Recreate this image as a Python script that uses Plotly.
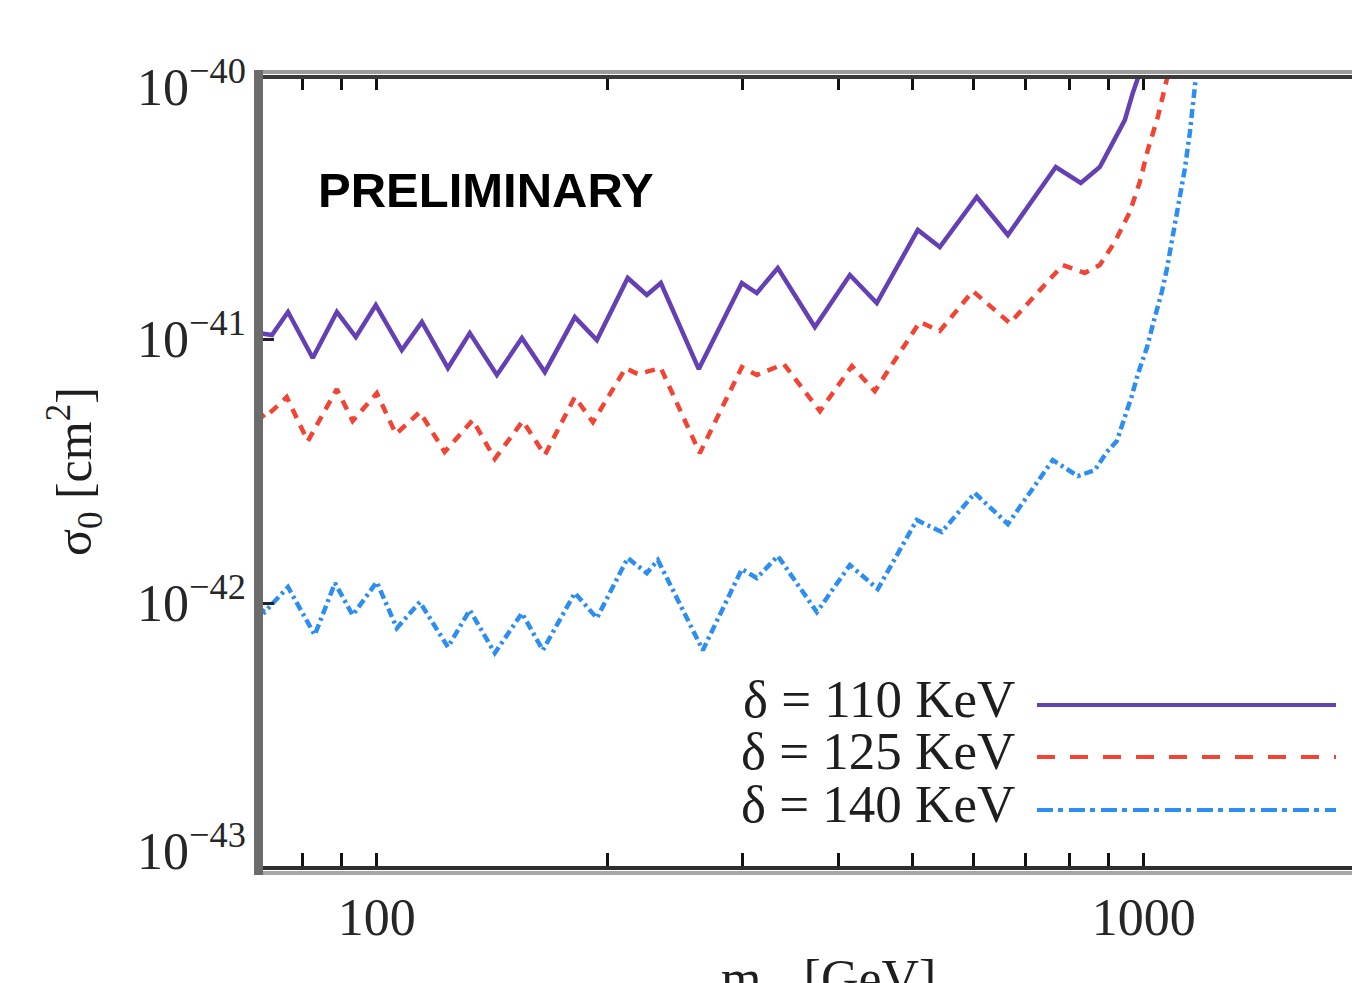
import plotly.graph_objects as go
import math

# ---- data ----
mass_110 = [70.0, 73.0, 76.6, 82.5, 88.7, 93.9, 99.7, 107.8, 114.5, 123.8, 132.2, 143.4, 154.6, 165.6,
            181.2, 193.6, 212.4, 224.9, 234.6, 262.9, 299.2, 312.9, 333.3, 372.5, 413.8, 448.6, 507.4,
            542.0, 605.7, 664.9, 767.8, 827.6, 876.2, 916.6, 944.6, 967.5, 1006]
sigma_110 = [1.056e-41, 1.038e-41, 1.269e-41, 8.50e-42, 1.269e-41, 1.020e-41, 1.348e-41, 9.11e-42,
             1.163e-41, 7.79e-42, 1.056e-41, 7.33e-42, 1.011e-41, 7.52e-42, 1.214e-41, 9.94e-42,
             1.706e-41, 1.471e-41, 1.633e-41, 7.72e-42, 1.633e-41, 1.497e-41, 1.861e-41, 1.113e-41,
             1.751e-41, 1.372e-41, 2.592e-41, 2.235e-41, 3.455e-41, 2.481e-41, 4.486e-41, 3.903e-41,
             4.486e-41, 5.676e-41, 6.755e-41, 8.551e-41, 1.19e-40]

mass_125 = [70.0, 71.4, 76.3, 81.3, 88.7, 93.0, 100.0, 105.9, 113.8, 122.6, 133.4, 142.5, 155.0, 165.6,
            181.2, 191.3, 211.1, 218.9, 234.6, 263.7, 299.2, 312.9, 339.4, 378.2, 416.3, 445.9, 510.4,
            542.0, 598.5, 668.9, 784.1, 837.6, 876.2, 916.6, 958.9, 988.1, 1012, 1043, 1071, 1088]
sigma_125 = [5.40e-42, 5.04e-42, 6.05e-42, 4.12e-42, 6.48e-42, 4.91e-42, 6.26e-42, 4.38e-42, 5.31e-42,
             3.75e-42, 4.95e-42, 3.53e-42, 4.91e-42, 3.65e-42, 6.05e-42, 4.86e-42, 7.79e-42, 7.39e-42,
             7.79e-42, 3.71e-42, 7.85e-42, 7.33e-42, 8.06e-42, 5.35e-42, 7.92e-42, 6.37e-42, 1.163e-41,
             1.075e-41, 1.523e-41, 1.152e-41, 1.910e-41, 1.782e-41, 1.910e-41, 2.334e-41, 3.031e-41,
             3.937e-41, 5.203e-41, 6.934e-41, 9.575e-41, 1.19e-40]

mass_140 = [70.0, 71.4, 76.6, 83.0, 88.2, 93.0, 100.0, 106.2, 113.8, 123.8, 132.2, 142.5, 154.6, 164.6,
            181.2, 193.6, 212.4, 224.9, 232.5, 266.1, 299.2, 312.9, 333.3, 374.8, 413.8, 450.0, 505.8,
            545.3, 602.1, 664.9, 760.9, 820.2, 863.1, 894.8, 922.1, 944.6, 964.6, 982.2, 1009, 1033,
            1055.5, 1071, 1091, 1114, 1131, 1148, 1165, 1176]
sigma_140 = [9.71e-43, 9.29e-43, 1.156e-42, 7.61e-43, 1.197e-42, 9.05e-43, 1.207e-42, 8.08e-43,
             1.014e-42, 6.85e-43, 9.46e-43, 6.50e-43, 9.21e-43, 6.67e-43, 1.097e-42, 8.82e-43,
             1.488e-42, 1.306e-42, 1.463e-42, 6.67e-43, 1.352e-42, 1.250e-42, 1.515e-42, 9.29e-43,
             1.400e-42, 1.136e-42, 2.072e-42, 1.867e-42, 2.621e-42, 2.001e-42, 3.494e-42, 3.039e-42,
             3.202e-42, 3.748e-42, 4.123e-42, 5.037e-42, 6.102e-42, 7.389e-42, 9.270e-42, 1.204e-41,
             1.510e-41, 1.829e-41, 2.460e-41, 3.280e-41, 4.409e-41, 6.034e-41, 8.930e-41, 1.140e-40]

series_labels = ["δ = 110 KeV", "δ = 125 KeV", "δ = 140 KeV"]
series_colors = ["#6440b4", "#f24333", "#2d8ef2"]

x_major = [100, 1000]
x_major_text = ["100", "1000"]
x_minor = [80, 90, 200, 300, 400, 500, 600, 700, 800, 900]
y_major = [1e-43, 1e-42, 1e-41, 1e-40]
y_major_text = ["10<sup>−43</sup>", "10<sup>−42</sup>", "10<sup>−41</sup>", "10<sup>−40</sup>"]
y_label_shift = [21, 4, 4, -8]   # end labels sit slightly inside the frame, as in the reference

# ---- figure ----
OFF = 8                      # default body margin of the page
W, H = 1360 - OFF, 983 - OFF
L, T = 258 - OFF, 75 - OFF   # plot area top-left in page pixels: (258, 75)
PLOT_BOTTOM = 868 - OFF
B = H - PLOT_BOTTOM
R = 0
plot_w, plot_h = W - L - R, H - T - B
px_per_decade = 767.0
x_lo = math.log10(70)
x_hi = x_lo + plot_w / px_per_decade


def px_x(p):   # page pixel -> paper x
    return (p - 258) / plot_w


def px_y(p):   # page pixel -> paper y
    return (868 - p) / plot_h


serif = "Liberation Serif, Times New Roman, serif"

fig = go.Figure()
fig.add_trace(go.Scatter(x=mass_110, y=sigma_110, mode="lines", name=series_labels[0],
                         line=dict(color=series_colors[0], width=4.5), showlegend=False))
fig.add_trace(go.Scatter(x=mass_125, y=sigma_125, mode="lines", name=series_labels[1],
                         line=dict(color=series_colors[1], width=4.5, dash="10px,8px"), showlegend=False))
fig.add_trace(go.Scatter(x=mass_140, y=sigma_140, mode="lines", name=series_labels[2],
                         line=dict(color=series_colors[2], width=4.5, dash="9px,4px,3px,4px"), showlegend=False))
# invisible copy so that the mirrored right-hand axis (ticks only) is drawn
fig.add_trace(go.Scatter(x=mass_110[:1], y=sigma_110[:1], yaxis="y2", mode="markers",
                         marker=dict(opacity=0), hoverinfo="skip", showlegend=False))

fig.update_layout(
    width=W, height=H,
    margin=dict(l=L, r=R, t=T, b=B, pad=0),
    paper_bgcolor="white", plot_bgcolor="white",
    xaxis=dict(type="log", range=[x_lo, x_hi], showgrid=False, zeroline=False, automargin=False,
               showline=False, mirror="allticks",
               ticks="inside", ticklen=15, tickwidth=3, tickcolor="#111111",
               tickmode="array", tickvals=x_major, ticktext=x_major_text, ticklabelstandoff=14,
               tickfont=dict(family=serif, size=52, color="#262626"),
               minor=dict(tickmode="array", tickvals=x_minor, ticks="inside", ticklen=10,
                          tickwidth=3, tickcolor="#111111", showgrid=False)),
    yaxis=dict(type="log", range=[-43, -40], showgrid=False, zeroline=False, automargin=False,
               showline=False, mirror=False,
               ticks="inside", ticklen=16, tickwidth=3, tickcolor="#222222",
               tickmode="array", tickvals=y_major, showticklabels=False),
    yaxis2=dict(type="log", range=[-43, -40], overlaying="y", side="right", showgrid=False,
                zeroline=False, showline=False, ticks="inside", ticklen=8, tickwidth=3,
                tickcolor="#222222", tickmode="array", tickvals=y_major[1:3],
                showticklabels=False, automargin=False),
)

# frame: dark inner lines with a lighter outer rim, thick grey left border
fig.add_shape(type="line", xref="paper", yref="paper", x0=px_x(254), x1=1.0, y0=px_y(72), y1=px_y(72),
              line=dict(color="#9c9c9c", width=4))
fig.add_shape(type="line", xref="paper", yref="paper", x0=px_x(254), x1=1.0, y0=px_y(77), y1=px_y(77),
              line=dict(color="#3a3a3a", width=4))
fig.add_shape(type="line", xref="paper", yref="paper", x0=px_x(254), x1=1.0, y0=px_y(868), y1=px_y(868),
              line=dict(color="#2e2e2e", width=4))
fig.add_shape(type="line", xref="paper", yref="paper", x0=px_x(254), x1=1.0, y0=px_y(873), y1=px_y(873),
              line=dict(color="#a6a6a6", width=4))
fig.add_shape(type="line", xref="paper", yref="paper", x0=px_x(258.5), x1=px_x(258.5),
              y0=px_y(70), y1=px_y(875), line=dict(color="#6b6b6b", width=9))

# y tick labels (placed like the reference: end labels nudged inside)
for val, txt, shift in zip(y_major, y_major_text, y_label_shift):
    fig.add_annotation(text=txt, xref="paper", yref="y", x=px_x(248), y=math.log10(val), yshift=shift,
                       showarrow=False, xanchor="right", yanchor="middle",
                       font=dict(family=serif, size=52, color="#262626"))

# PRELIMINARY
fig.add_annotation(text="<b>PRELIMINARY</b>", xref="paper", yref="paper",
                   x=px_x(486), y=px_y(190), showarrow=False,
                   font=dict(family="Liberation Sans, Arial, sans-serif", size=49, color="black"),
                   xanchor="center", yanchor="middle")

# legend (text left, sample right)
legend_rows_y = [705, 757, 810]
dashes = ["solid", "18px,15px", "16px,5px,5px,6px"]
for lab, col, yy, dsh in zip(series_labels, series_colors, legend_rows_y, dashes):
    fig.add_annotation(text=lab, xref="paper", yref="paper", x=px_x(1017), y=px_y(yy - 6),
                       showarrow=False, xanchor="right", yanchor="middle",
                       font=dict(family=serif, size=53, color="#1e1e1e"))
    fig.add_shape(type="line", xref="paper", yref="paper",
                  x0=px_x(1037), x1=px_x(1336), y0=px_y(yy), y1=px_y(yy),
                  line=dict(color=col, width=4, dash=dsh))

# axis titles
fig.add_annotation(text="σ<sub>0</sub> [cm<sup>2</sup>]", xref="paper", yref="paper",
                   x=px_x(74), y=px_y(472), textangle=-90, showarrow=False,
                   xanchor="center", yanchor="middle", font=dict(family=serif, size=50, color="#1e1e1e"))
fig.add_annotation(text="m<sub>χ</sub>  [GeV]", xref="paper", yref="paper",
                   x=px_x(828), y=px_y(948), showarrow=False,
                   xanchor="center", yanchor="top", font=dict(family=serif, size=52, color="#1e1e1e"))

fig.write_html("out.html",
               post_script="document.documentElement.style.overflow='hidden';"
                           "document.body.style.overflow='hidden';")
